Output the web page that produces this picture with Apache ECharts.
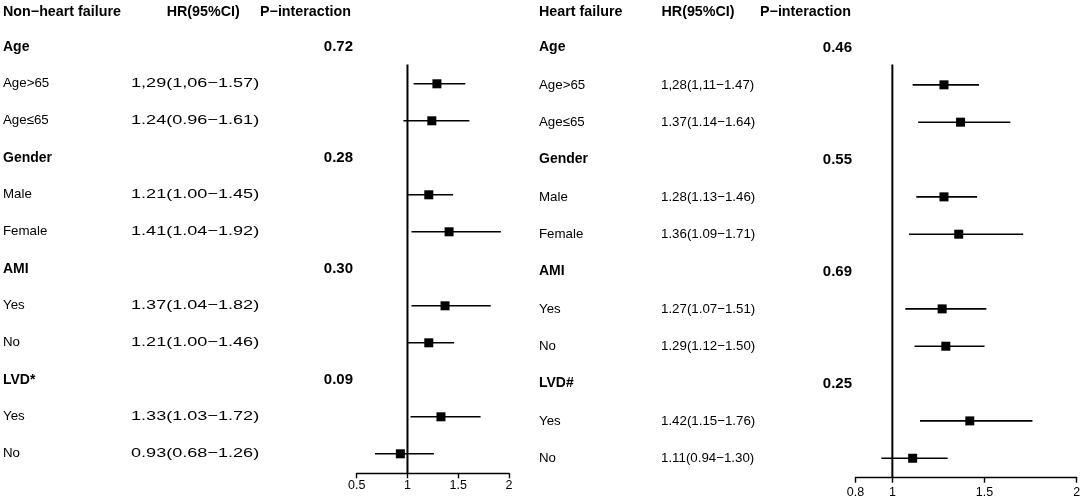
<!DOCTYPE html>
<html><head><meta charset="utf-8">
<script src="https://cdn.jsdelivr.net/npm/echarts@6/dist/echarts.min.js"></script>
<style>html,body{margin:0;padding:0;background:#fff}#c{width:1084px;height:499px}</style>
</head><body><div id="c"></div>
<script>
// ---------- data ----------
const leftTitle = 'Non\u2212heart failure';
const rightTitle = 'Heart failure';
const colHR = 'HR(95%CI)';
const colP = 'P\u2212interaction';

const leftLabels = ['Age','Age>65','Age\u226465','Gender','Male','Female','AMI','Yes','No','LVD*','Yes','No'];
const leftHR  = [null,1.29,1.24,null,1.21,1.41,null,1.37,1.21,null,1.33,0.93];
const leftLo  = [null,1.06,0.96,null,1.00,1.04,null,1.04,1.00,null,1.03,0.68];
const leftHi  = [null,1.57,1.61,null,1.45,1.92,null,1.82,1.46,null,1.72,1.26];
const leftHRText = ['','1,29(1,06\u22121.57)','1.24(0.96\u22121.61)','','1.21(1.00\u22121.45)','1.41(1.04\u22121.92)','','1.37(1.04\u22121.82)','1.21(1.00\u22121.46)','','1.33(1.03\u22121.72)','0.93(0.68\u22121.26)'];
const leftP = ['0.72','','','0.28','','','0.30','','','0.09','',''];

const rightLabels = ['Age','Age>65','Age\u226465','Gender','Male','Female','AMI','Yes','No','LVD#','Yes','No'];
const rightHR  = [null,1.28,1.37,null,1.28,1.36,null,1.27,1.29,null,1.42,1.11];
const rightLo  = [null,1.11,1.14,null,1.13,1.09,null,1.07,1.12,null,1.15,0.94];
const rightHi  = [null,1.47,1.64,null,1.46,1.71,null,1.51,1.50,null,1.76,1.30];
const rightHRText = ['','1,28(1,11\u22121.47)','1.37(1.14\u22121.64)','','1.28(1.13\u22121.46)','1.36(1.09\u22121.71)','','1.27(1.07\u22121.51)','1.29(1.12\u22121.50)','','1.42(1.15\u22121.76)','1.11(0.94\u22121.30)'];
const rightP = ['0.46','','','0.55','','','0.69','','','0.25','',''];

const leftTicks = [0.5, 1, 1.5, 2];
const rightTicks = [0.8, 1, 1.5, 2];
const refValue = 1;

// ---------- layout ----------
const W = 1084, H = 499;
const FONT = 'Liberation Sans, Arial, Helvetica, sans-serif';
const panels = [
  { rowTop: 46.8, step: 37.0, axisY: 473.3, forestL: 356.7, forestR: 509, xmin: 0.5, xmax: 2,
    labX: 3, hrX: 131, hrScale: 1.36, hrHeadX: 166.7, pHeadX: 260, pX: 353, labelMargin: 6,
    title: leftTitle, labels: leftLabels, hr: leftHR, lo: leftLo, hi: leftHi, hrText: leftHRText, p: leftP, ticks: leftTicks },
  { rowTop: 47.5, step: 37.34, axisY: 477.7, forestL: 855.5, forestR: 1076.7, xmin: 0.8, xmax: 2,
    labX: 539, hrX: 661, hrScale: 1, hrHeadX: 661.5, pHeadX: 760, pX: 852, labelMargin: 8,
    title: rightTitle, labels: rightLabels, hr: rightHR, lo: rightLo, hi: rightHi, hrText: rightHRText, p: rightP, ticks: rightTicks }
];
const headerPixelY = 12;
const refTopPixelY = 64.5;

const grids = [], xAxes = [], yAxes = [], series = [];

panels.forEach((pn, k) => {
  const yMin = -pn.rowTop / pn.step;
  const yMax = (pn.axisY - pn.rowTop) / pn.step;
  const bottom = H - pn.axisY;
  const headerRow = (headerPixelY - pn.rowTop) / pn.step;
  const refTopRow = (refTopPixelY - pn.rowTop) / pn.step;
  const tIdx = k * 2, fIdx = k * 2 + 1;

  // text grid (full width, x in pixel-like units)
  grids.push({ left: 0, right: 0, top: 0, bottom: bottom, containLabel: false });
  xAxes.push({ type: 'value', gridIndex: tIdx, min: 0, max: W, show: false });
  yAxes.push({ type: 'value', gridIndex: tIdx, min: yMin, max: yMax, inverse: true, show: false });

  // forest grid
  grids.push({ left: pn.forestL, right: W - pn.forestR, top: 0, bottom: bottom, containLabel: false });
  xAxes.push({
    type: 'value', gridIndex: fIdx, min: pn.xmin, max: pn.xmax, position: 'bottom',
    axisLine: { show: true, onZero: false, lineStyle: { color: '#000', width: 1.4 } },
    axisTick: { show: true, length: 5, lineStyle: { color: '#000', width: 1.4 }, customValues: pn.ticks },
    axisLabel: { color: '#000', fontSize: 12.5, fontFamily: FONT, margin: pn.labelMargin, customValues: pn.ticks,
      formatter: v => String(v) },
    splitLine: { show: false }
  });
  yAxes.push({ type: 'value', gridIndex: fIdx, min: yMin, max: yMax, inverse: true, show: false });

  // text items
  const items = [];
  items.push({ x: pn.labX, row: headerRow, text: pn.title, bold: true, size: 14.3, align: 'left', sx: 1 });
  items.push({ x: pn.hrHeadX, row: headerRow, text: colHR, bold: true, size: 14.3, align: 'left', sx: 1 });
  items.push({ x: pn.pHeadX, row: headerRow, text: colP, bold: true, size: 14.3, align: 'left', sx: 1 });
  pn.labels.forEach((lab, i) => {
    const isHead = pn.hr[i] === null;
    items.push({ x: pn.labX, row: i, text: lab, bold: isHead, size: isHead ? 14 : 13.3, align: 'left', sx: 1 });
    if (pn.hrText[i]) items.push({ x: pn.hrX, row: i, text: pn.hrText[i], bold: false, size: 13.3, align: 'left', sx: pn.hrScale });
    if (pn.p[i]) items.push({ x: pn.pX, row: i, text: pn.p[i], bold: true, size: 15, align: 'right', sx: 1 });
  });
  series.push({
    type: 'custom', xAxisIndex: tIdx, yAxisIndex: tIdx, silent: true,
    data: items.map(it => [it.x, it.row]),
    encode: { x: 0, y: 1 },
    renderItem: (params, api) => {
      const it = items[params.dataIndex];
      const p = api.coord([api.value(0), api.value(1)]);
      return { type: 'text', x: p[0], y: p[1], scaleX: it.sx, style: {
        text: it.text, textAlign: it.align, textVerticalAlign: 'middle',
        fontSize: it.size, fontWeight: it.bold ? 'bold' : 'normal', fontFamily: FONT, fill: '#000' } };
    }
  });

  // reference line at HR = 1
  series.push({
    type: 'line', xAxisIndex: fIdx, yAxisIndex: fIdx, silent: true, symbol: 'none',
    data: [[refValue, refTopRow], [refValue, yMax]],
    lineStyle: { color: '#000', width: 2 }, animation: false
  });

  // CI lines and squares
  const fdata = [];
  pn.hr.forEach((v, i) => { if (v !== null) fdata.push([pn.lo[i], pn.hi[i], v, i]); });
  series.push({
    type: 'custom', xAxisIndex: fIdx, yAxisIndex: fIdx, silent: true,
    data: fdata, encode: { x: [0, 1, 2], y: 3 },
    renderItem: (params, api) => {
      const r = api.value(3);
      const a = api.coord([api.value(0), r]);
      const b = api.coord([api.value(1), r]);
      const c = api.coord([api.value(2), r]);
      const s = 9;
      return { type: 'group', children: [
        { type: 'line', shape: { x1: a[0], y1: a[1], x2: b[0], y2: b[1] }, style: { stroke: '#000', lineWidth: 1.6 } },
        { type: 'rect', shape: { x: c[0] - s / 2, y: c[1] - s / 2, width: s, height: s }, style: { fill: '#000' } }
      ] };
    }
  });
});

const chart = echarts.init(document.getElementById('c'), null, { renderer: 'canvas' });
chart.setOption({ animation: false, backgroundColor: '#fff', grid: grids, xAxis: xAxes, yAxis: yAxes, series: series });
</script></body></html>
